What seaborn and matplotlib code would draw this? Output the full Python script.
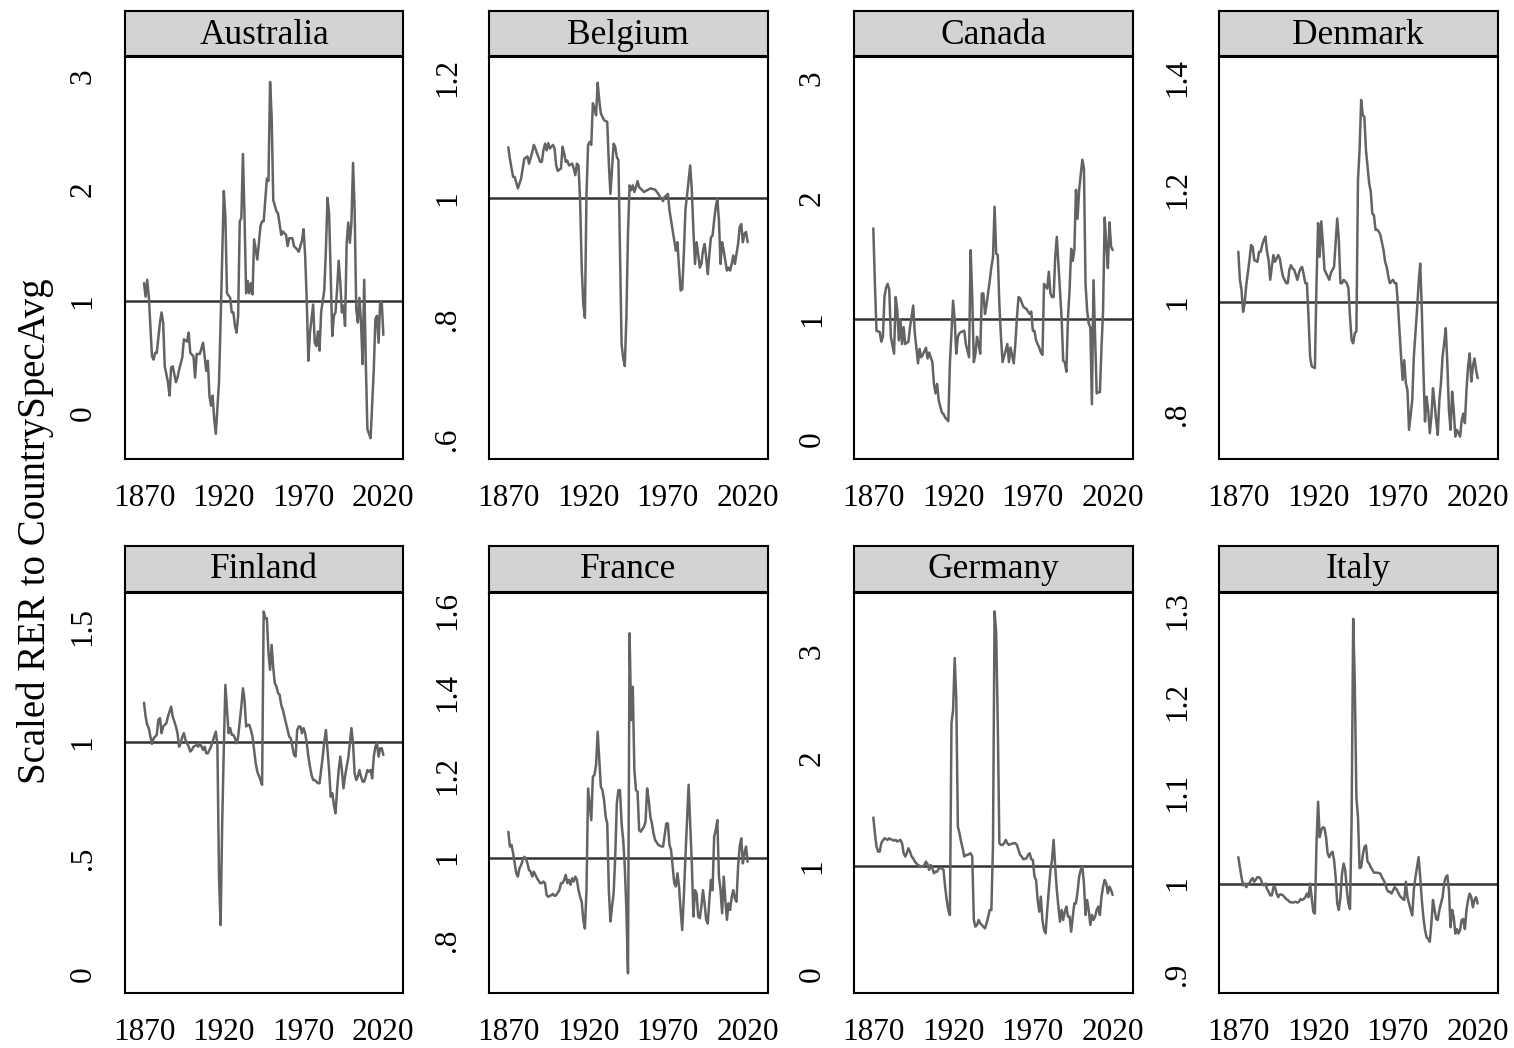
import matplotlib
matplotlib.use("Agg")
import matplotlib.pyplot as plt
import seaborn as sns
import pandas as pd

# Scaled real exchange rate relative to each country's own average, 1870-2020
countries = ["Australia", "Belgium", "Canada", "Denmark",
             "Finland", "France", "Germany", "Italy"]

australia = [
    (1870, 1.16), (1871, 1.04), (1872, 1.19), (1873, 1.04), (1875, 0.51), (1876, 0.48),
    (1877, 0.54), (1878, 0.54), (1880, 0.81), (1881, 0.90), (1882, 0.81), (1883, 0.42),
    (1885, 0.28), (1886, 0.16), (1887, 0.41), (1888, 0.42), (1890, 0.28), (1891, 0.32),
    (1892, 0.39), (1894, 0.50), (1895, 0.66), (1897, 0.64), (1898, 0.72), (1899, 0.54),
    (1901, 0.51), (1902, 0.32), (1903, 0.53), (1905, 0.53), (1907, 0.63), (1908, 0.51),
    (1909, 0.38), (1910, 0.47), (1911, 0.16), (1912, 0.07), (1913, 0.16), (1914, -0.05),
    (1915, -0.18), (1917, 0.28), (1918, 0.81), (1920, 1.98), (1921, 1.75), (1922, 1.07),
    (1924, 1.03), (1925, 0.90), (1926, 0.90), (1927, 0.78), (1928, 0.72), (1929, 0.87),
    (1930, 1.71), (1931, 1.74), (1932, 2.31), (1933, 1.75), (1934, 1.07), (1935, 1.18),
    (1936, 1.07), (1937, 1.16), (1938, 1.06), (1939, 1.55), (1941, 1.37), (1943, 1.67),
    (1944, 1.71), (1945, 1.71), (1947, 2.09), (1948, 2.07), (1949, 2.95), (1950, 2.64),
    (1951, 1.90), (1953, 1.80), (1954, 1.78), (1956, 1.59), (1957, 1.62), (1959, 1.59),
    (1960, 1.49), (1961, 1.56), (1963, 1.56), (1964, 1.49), (1966, 1.46), (1967, 1.44),
    (1969, 1.54), (1970, 1.64), (1971, 1.40), (1972, 1.00), (1973, 0.47), (1974, 0.72),
    (1976, 0.97), (1977, 0.63), (1978, 0.60), (1979, 0.73), (1980, 0.56), (1981, 0.90),
    (1983, 1.10), (1984, 1.46), (1985, 1.92), (1986, 1.78), (1988, 0.69), (1989, 0.87),
    (1990, 0.90), (1991, 1.10), (1992, 1.36), (1993, 1.17), (1994, 0.90), (1995, 0.96),
    (1996, 0.78), (1997, 1.52), (1998, 1.70), (1999, 1.52), (2000, 1.70), (2001, 2.23),
    (2002, 1.81), (2003, 0.93), (2004, 0.81), (2005, 1.03), (2006, 0.81), (2007, 0.44),
    (2008, 1.19), (2009, 0.45), (2010, -0.14), (2011, -0.18), (2012, -0.22), (2014, 0.39),
    (2015, 0.84), (2016, 0.87), (2017, 0.63), (2018, 0.99), (2019, 0.99), (2020, 0.70),
]

belgium = [
    (1870, 1.084), (1871, 1.065), (1873, 1.035), (1874, 1.035), (1876, 1.016), (1878, 1.032),
    (1879, 1.049), (1880, 1.065), (1882, 1.069), (1883, 1.057), (1885, 1.076), (1886, 1.088),
    (1887, 1.082), (1888, 1.074), (1890, 1.060), (1891, 1.060), (1892, 1.079), (1893, 1.090),
    (1894, 1.079), (1895, 1.091), (1896, 1.082), (1898, 1.088), (1899, 1.082), (1900, 1.054),
    (1901, 1.045), (1903, 1.049), (1904, 1.085), (1905, 1.074), (1906, 1.060), (1907, 1.062),
    (1908, 1.054), (1910, 1.057), (1911, 1.049), (1912, 1.038), (1913, 1.057), (1914, 1.054),
    (1915, 0.996), (1916, 0.885), (1917, 0.824), (1918, 0.802), (1919, 1.007), (1920, 1.088),
    (1921, 1.093), (1922, 1.088), (1923, 1.157), (1924, 1.148), (1925, 1.137), (1926, 1.191),
    (1927, 1.162), (1928, 1.140), (1930, 1.129), (1932, 1.126), (1933, 1.057), (1934, 1.007),
    (1936, 1.090), (1937, 1.085), (1938, 1.068), (1939, 1.063), (1940, 0.913), (1941, 0.758),
    (1942, 0.735), (1943, 0.722), (1944, 0.802), (1945, 0.941), (1946, 1.021), (1947, 1.013),
    (1948, 1.021), (1949, 1.010), (1950, 1.018), (1951, 1.028), (1952, 1.018), (1954, 1.013),
    (1955, 1.010), (1957, 1.013), (1959, 1.016), (1962, 1.014), (1964, 1.007), (1965, 1.002),
    (1966, 0.999), (1967, 0.995), (1968, 1.002), (1969, 1.004), (1970, 1.007), (1971, 0.980),
    (1972, 0.963), (1973, 0.945), (1974, 0.930), (1975, 0.913), (1976, 0.927), (1977, 0.885),
    (1978, 0.847), (1979, 0.849), (1980, 0.907), (1981, 0.980), (1983, 1.029), (1984, 1.054),
    (1985, 1.013), (1986, 0.946), (1987, 0.891), (1988, 0.927), (1989, 0.907), (1990, 0.885),
    (1991, 0.891), (1992, 0.913), (1993, 0.924), (1994, 0.902), (1995, 0.874), (1996, 0.907),
    (1997, 0.935), (1998, 0.938), (1999, 0.963), (2000, 0.985), (2001, 0.999), (2002, 0.963),
    (2003, 0.891), (2004, 0.927), (2005, 0.913), (2007, 0.880), (2008, 0.885), (2009, 0.880),
    (2010, 0.891), (2011, 0.905), (2012, 0.891), (2014, 0.924), (2015, 0.952), (2016, 0.957),
    (2017, 0.927), (2018, 0.941), (2019, 0.944), (2020, 0.927),
]

canada = [
    (1870, 1.75), (1871, 1.29), (1872, 0.90), (1874, 0.89), (1875, 0.81), (1876, 0.85),
    (1877, 1.18), (1878, 1.26), (1879, 1.29), (1880, 1.24), (1881, 0.85), (1883, 0.71),
    (1884, 1.18), (1885, 1.07), (1886, 0.82), (1887, 0.99), (1888, 0.79), (1889, 0.93),
    (1890, 0.79), (1891, 0.80), (1892, 0.81), (1893, 0.93), (1895, 1.11), (1896, 0.88),
    (1897, 0.76), (1898, 0.63), (1899, 0.75), (1900, 0.68), (1901, 0.70), (1903, 0.76),
    (1904, 0.67), (1905, 0.72), (1907, 0.64), (1908, 0.46), (1909, 0.38), (1910, 0.46),
    (1911, 0.32), (1913, 0.22), (1914, 0.21), (1915, 0.18), (1917, 0.15), (1918, 0.63),
    (1920, 1.15), (1921, 0.99), (1922, 0.71), (1923, 0.85), (1924, 0.88), (1925, 0.89),
    (1927, 0.90), (1928, 0.79), (1930, 0.68), (1931, 1.57), (1932, 1.18), (1933, 0.64),
    (1934, 0.71), (1935, 0.85), (1936, 0.79), (1937, 0.71), (1938, 1.21), (1939, 1.21),
    (1940, 1.04), (1941, 1.12), (1943, 1.32), (1944, 1.43), (1945, 1.51), (1946, 1.93),
    (1947, 1.54), (1948, 1.53), (1949, 1.12), (1950, 0.85), (1951, 0.64), (1953, 0.74),
    (1954, 0.79), (1955, 0.64), (1956, 0.76), (1958, 0.63), (1959, 0.79), (1960, 1.01),
    (1961, 1.18), (1962, 1.17), (1964, 1.10), (1966, 1.08), (1968, 1.04), (1969, 1.06),
    (1970, 0.90), (1971, 0.90), (1972, 0.82), (1973, 0.79), (1974, 0.76), (1975, 0.72),
    (1976, 0.70), (1977, 1.29), (1979, 1.25), (1980, 1.39), (1981, 1.21), (1982, 1.18),
    (1983, 1.18), (1984, 1.51), (1985, 1.68), (1986, 1.46), (1988, 1.01), (1989, 0.65),
    (1990, 0.64), (1991, 0.56), (1992, 1.01), (1993, 1.24), (1994, 1.58), (1995, 1.48),
    (1996, 1.57), (1997, 2.07), (1998, 1.83), (1999, 2.07), (2001, 2.32), (2002, 2.25),
    (2003, 1.29), (2004, 1.07), (2005, 0.96), (2006, 0.93), (2007, 0.29), (2008, 1.32),
    (2009, 0.85), (2010, 0.38), (2011, 0.39), (2012, 0.39), (2013, 0.76), (2014, 1.07),
    (2015, 1.84), (2016, 1.62), (2017, 1.42), (2018, 1.80), (2019, 1.60), (2020, 1.57),
]

denmark = [
    (1870, 1.090), (1871, 1.040), (1872, 1.022), (1873, 0.983), (1874, 0.998), (1875, 1.031),
    (1877, 1.075), (1878, 1.102), (1879, 1.099), (1880, 1.075), (1882, 1.072), (1883, 1.090),
    (1884, 1.090), (1885, 1.102), (1886, 1.111), (1887, 1.117), (1888, 1.090), (1889, 1.075),
    (1890, 1.040), (1891, 1.063), (1892, 1.084), (1893, 1.072), (1895, 1.084), (1896, 1.078),
    (1897, 1.060), (1898, 1.046), (1900, 1.034), (1901, 1.034), (1902, 1.058), (1903, 1.066),
    (1904, 1.060), (1905, 1.058), (1907, 1.040), (1908, 1.052), (1909, 1.060), (1910, 1.063),
    (1911, 1.049), (1912, 1.034), (1913, 1.034), (1914, 0.974), (1915, 0.903), (1916, 0.886),
    (1918, 0.883), (1919, 1.034), (1920, 1.141), (1921, 1.081), (1922, 1.144), (1923, 1.105),
    (1924, 1.058), (1926, 1.046), (1927, 1.040), (1928, 1.052), (1930, 1.063), (1931, 1.105),
    (1932, 1.149), (1933, 1.111), (1934, 1.034), (1935, 1.034), (1936, 1.040), (1938, 1.034),
    (1939, 1.025), (1940, 0.974), (1941, 0.933), (1942, 0.927), (1943, 0.945), (1944, 0.948),
    (1945, 1.218), (1946, 1.271), (1947, 1.360), (1948, 1.333), (1949, 1.330), (1950, 1.271),
    (1952, 1.212), (1953, 1.197), (1954, 1.158), (1955, 1.155), (1956, 1.129), (1957, 1.129),
    (1958, 1.126), (1959, 1.120), (1961, 1.093), (1962, 1.072), (1963, 1.063), (1964, 1.046),
    (1965, 1.034), (1967, 1.040), (1968, 1.034), (1969, 1.034), (1970, 0.998), (1971, 0.951),
    (1972, 0.903), (1973, 0.862), (1974, 0.897), (1975, 0.856), (1976, 0.844), (1977, 0.773),
    (1979, 0.826), (1980, 0.903), (1982, 0.986), (1983, 1.034), (1984, 1.069), (1985, 0.986),
    (1986, 0.880), (1987, 0.788), (1988, 0.832), (1989, 0.808), (1990, 0.767), (1991, 0.797),
    (1992, 0.847), (1993, 0.820), (1994, 0.790), (1995, 0.764), (1996, 0.826), (1997, 0.856),
    (1998, 0.903), (1999, 0.927), (2000, 0.954), (2001, 0.891), (2002, 0.808), (2003, 0.773),
    (2004, 0.841), (2005, 0.808), (2006, 0.761), (2007, 0.773), (2009, 0.761), (2010, 0.790),
    (2011, 0.802), (2012, 0.785), (2013, 0.844), (2014, 0.886), (2015, 0.909), (2016, 0.859),
    (2017, 0.886), (2018, 0.900), (2019, 0.880), (2020, 0.865),
]

finland = [
    (1870, 1.171), (1871, 1.111), (1872, 1.075), (1873, 1.061), (1874, 1.024), (1875, 0.993),
    (1876, 1.017), (1878, 1.032), (1879, 1.097), (1880, 1.104), (1881, 1.039), (1882, 1.068),
    (1883, 1.075), (1884, 1.082), (1885, 1.111), (1887, 1.154), (1888, 1.111), (1890, 1.068),
    (1891, 1.039), (1892, 0.981), (1893, 0.996), (1894, 1.024), (1895, 1.039), (1896, 1.010),
    (1898, 0.981), (1899, 0.960), (1900, 0.967), (1901, 0.981), (1903, 0.988), (1904, 0.981),
    (1905, 0.996), (1906, 0.981), (1907, 0.967), (1908, 0.981), (1909, 0.952), (1910, 0.952),
    (1911, 0.967), (1912, 0.981), (1914, 1.024), (1915, 1.046), (1916, 0.988), (1917, 0.420),
    (1918, 0.210), (1919, 0.650), (1920, 0.970), (1921, 1.248), (1922, 1.140), (1923, 1.039),
    (1924, 1.061), (1925, 1.032), (1926, 1.032), (1927, 1.017), (1928, 0.996), (1929, 1.024),
    (1931, 1.154), (1932, 1.233), (1933, 1.183), (1934, 1.068), (1935, 1.075), (1936, 1.075),
    (1937, 1.053), (1938, 1.024), (1939, 0.967), (1940, 0.909), (1941, 0.873), (1943, 0.837),
    (1944, 0.816), (1945, 1.565), (1946, 1.536), (1947, 1.536), (1948, 1.385), (1949, 1.313),
    (1950, 1.421), (1951, 1.320), (1952, 1.255), (1953, 1.241), (1954, 1.212), (1955, 1.205),
    (1956, 1.161), (1957, 1.140), (1958, 1.111), (1959, 1.082), (1960, 1.053), (1961, 1.024),
    (1962, 1.017), (1963, 0.981), (1964, 0.945), (1965, 0.938), (1966, 1.053), (1967, 1.068),
    (1968, 1.068), (1969, 1.039), (1970, 1.061), (1971, 1.039), (1972, 0.996), (1973, 0.938),
    (1974, 0.895), (1975, 0.859), (1976, 0.837), (1977, 0.837), (1979, 0.823), (1980, 0.823),
    (1981, 0.880), (1982, 0.938), (1983, 1.003), (1984, 1.053), (1985, 0.967), (1986, 0.880),
    (1987, 0.765), (1988, 0.780), (1989, 0.729), (1990, 0.693), (1991, 0.794), (1992, 0.880),
    (1993, 0.938), (1994, 0.880), (1995, 0.801), (1996, 0.852), (1997, 0.895), (1998, 0.931),
    (1999, 0.996), (2000, 1.061), (2001, 0.996), (2002, 0.866), (2003, 0.837), (2004, 0.852),
    (2005, 0.880), (2006, 0.852), (2007, 0.830), (2008, 0.830), (2009, 0.852), (2010, 0.880),
    (2011, 0.873), (2012, 0.880), (2013, 0.844), (2014, 0.938), (2015, 0.981), (2016, 0.996),
    (2017, 0.938), (2018, 0.974), (2019, 0.974), (2020, 0.945),
]

france = [
    (1870, 1.063), (1871, 1.027), (1872, 1.031), (1873, 1.011), (1874, 0.986), (1875, 0.962),
    (1876, 0.954), (1877, 0.974), (1878, 0.982), (1879, 0.994), (1880, 1.002), (1881, 0.998),
    (1882, 0.986), (1883, 0.970), (1884, 0.966), (1885, 0.954), (1886, 0.966), (1887, 0.958),
    (1888, 0.950), (1890, 0.938), (1891, 0.938), (1892, 0.942), (1893, 0.938), (1894, 0.909),
    (1895, 0.905), (1897, 0.909), (1898, 0.912), (1899, 0.907), (1900, 0.909), (1902, 0.921),
    (1903, 0.938), (1904, 0.938), (1905, 0.946), (1906, 0.958), (1907, 0.938), (1908, 0.946),
    (1909, 0.934), (1910, 0.950), (1911, 0.942), (1912, 0.954), (1913, 0.946), (1914, 0.921),
    (1915, 0.905), (1916, 0.893), (1917, 0.849), (1918, 0.828), (1919, 0.921), (1920, 1.168),
    (1921, 1.130), (1922, 1.091), (1923, 1.197), (1924, 1.201), (1925, 1.225), (1926, 1.306),
    (1927, 1.237), (1928, 1.172), (1929, 1.164), (1930, 1.140), (1931, 1.100), (1932, 1.083),
    (1933, 0.921), (1934, 0.845), (1935, 0.881), (1936, 0.913), (1937, 1.002), (1938, 1.132),
    (1939, 1.164), (1940, 1.164), (1941, 1.083), (1942, 1.043), (1943, 0.978), (1944, 0.873),
    (1945, 0.719), (1946, 1.545), (1947, 1.334), (1948, 1.415), (1949, 1.213), (1950, 1.164),
    (1951, 1.160), (1952, 1.067), (1953, 1.063), (1955, 1.075), (1956, 1.087), (1957, 1.168),
    (1958, 1.140), (1959, 1.100), (1960, 1.083), (1961, 1.059), (1962, 1.043), (1964, 1.031),
    (1966, 1.027), (1967, 1.027), (1969, 1.083), (1970, 1.083), (1971, 1.031), (1972, 1.019),
    (1973, 0.978), (1974, 0.938), (1975, 0.930), (1976, 0.962), (1977, 0.930), (1978, 0.873),
    (1979, 0.824), (1980, 0.905), (1981, 1.002), (1982, 1.091), (1983, 1.177), (1984, 1.083),
    (1985, 0.986), (1986, 0.857), (1987, 0.921), (1988, 0.913), (1989, 0.857), (1990, 0.853),
    (1991, 0.881), (1992, 0.921), (1993, 0.889), (1994, 0.849), (1995, 0.840), (1996, 0.897),
    (1997, 0.946), (1998, 0.921), (1999, 1.051), (2000, 1.067), (2001, 1.091), (2002, 0.954),
    (2003, 0.921), (2004, 0.865), (2005, 0.954), (2006, 0.897), (2007, 0.849), (2008, 0.889),
    (2009, 0.873), (2010, 0.905), (2011, 0.921), (2012, 0.901), (2013, 0.893), (2014, 0.978),
    (2015, 1.027), (2016, 1.047), (2017, 0.986), (2018, 1.011), (2019, 1.027), (2020, 0.990),
]

germany = [
    (1870, 1.452), (1871, 1.307), (1872, 1.183), (1873, 1.136), (1874, 1.136), (1875, 1.214),
    (1876, 1.238), (1877, 1.260), (1879, 1.245), (1880, 1.260), (1881, 1.250), (1882, 1.245),
    (1883, 1.238), (1884, 1.245), (1885, 1.229), (1887, 1.245), (1888, 1.214), (1889, 1.121),
    (1890, 1.090), (1891, 1.121), (1892, 1.167), (1893, 1.136), (1894, 1.090), (1895, 1.074),
    (1896, 1.043), (1897, 1.028), (1898, 1.012), (1900, 0.997), (1901, 0.997), (1902, 1.012),
    (1903, 1.043), (1904, 1.020), (1905, 0.966), (1906, 1.012), (1907, 0.981), (1908, 0.935),
    (1909, 0.950), (1910, 0.950), (1911, 0.981), (1913, 0.981), (1914, 0.966), (1915, 0.811),
    (1916, 0.687), (1917, 0.594), (1918, 0.548), (1919, 2.328), (1920, 2.450), (1921, 2.932),
    (1922, 2.545), (1923, 1.368), (1924, 1.307), (1925, 1.229), (1926, 1.167), (1927, 1.090),
    (1928, 1.105), (1929, 1.105), (1931, 1.121), (1932, 1.090), (1933, 0.502), (1934, 0.440),
    (1935, 0.455), (1936, 0.502), (1937, 0.471), (1938, 0.455), (1939, 0.440), (1940, 0.424),
    (1941, 0.471), (1942, 0.533), (1943, 0.594), (1944, 0.594), (1945, 1.200), (1946, 3.365),
    (1947, 3.164), (1948, 2.328), (1949, 1.214), (1950, 1.198), (1951, 1.198), (1952, 1.214),
    (1953, 1.245), (1954, 1.214), (1955, 1.198), (1956, 1.205), (1958, 1.214), (1959, 1.214),
    (1960, 1.198), (1961, 1.152), (1962, 1.105), (1963, 1.090), (1964, 1.065), (1966, 1.074),
    (1967, 1.105), (1968, 1.121), (1969, 1.065), (1970, 1.059), (1971, 0.904), (1972, 0.873),
    (1973, 0.687), (1974, 0.579), (1975, 0.718), (1976, 0.500), (1977, 0.409), (1978, 0.378),
    (1979, 0.594), (1980, 0.780), (1981, 0.966), (1982, 1.059), (1983, 1.245), (1984, 0.997),
    (1985, 0.780), (1986, 0.625), (1987, 0.486), (1988, 0.594), (1989, 0.502), (1990, 0.579),
    (1991, 0.625), (1992, 0.533), (1993, 0.533), (1994, 0.393), (1995, 0.533), (1996, 0.656),
    (1997, 0.656), (1998, 0.765), (1999, 0.904), (2000, 0.966), (2001, 0.997), (2002, 0.842),
    (2003, 0.548), (2004, 0.687), (2005, 0.594), (2006, 0.455), (2007, 0.548), (2008, 0.502),
    (2009, 0.533), (2010, 0.594), (2011, 0.625), (2012, 0.548), (2013, 0.718), (2014, 0.811),
    (2015, 0.873), (2016, 0.842), (2017, 0.749), (2018, 0.811), (2019, 0.780), (2020, 0.734),
]

italy = [
    (1870, 1.029), (1871, 1.018), (1872, 1.007), (1873, 0.998), (1874, 1.000), (1875, 0.996),
    (1876, 1.000), (1877, 1.000), (1878, 1.004), (1879, 1.006), (1880, 1.002), (1882, 1.007),
    (1883, 1.007), (1884, 1.005), (1885, 1.000), (1886, 0.998), (1887, 1.000), (1888, 0.994),
    (1889, 0.991), (1890, 0.987), (1891, 0.987), (1892, 0.996), (1893, 0.996), (1894, 0.989),
    (1895, 0.985), (1896, 0.988), (1897, 0.988), (1898, 0.987), (1899, 0.985), (1900, 0.983),
    (1901, 0.982), (1902, 0.980), (1904, 0.979), (1906, 0.980), (1907, 0.979), (1908, 0.980),
    (1909, 0.983), (1910, 0.982), (1911, 0.983), (1912, 0.985), (1913, 0.989), (1914, 0.985),
    (1915, 1.000), (1916, 0.985), (1917, 0.969), (1918, 0.967), (1919, 1.044), (1920, 1.090),
    (1921, 1.051), (1922, 1.059), (1923, 1.062), (1924, 1.061), (1925, 1.051), (1926, 1.033),
    (1927, 1.029), (1928, 1.033), (1929, 1.035), (1930, 1.026), (1931, 1.007), (1932, 0.978),
    (1933, 0.971), (1934, 0.985), (1935, 1.011), (1936, 1.022), (1937, 1.015), (1938, 0.993),
    (1939, 0.978), (1940, 0.972), (1941, 1.070), (1942, 1.291), (1943, 1.220), (1944, 1.095),
    (1945, 1.073), (1946, 1.017), (1947, 1.018), (1948, 1.031), (1949, 1.040), (1950, 1.042),
    (1951, 1.024), (1952, 1.022), (1953, 1.018), (1954, 1.015), (1955, 1.012), (1957, 1.012),
    (1959, 1.011), (1960, 1.007), (1961, 1.004), (1962, 1.000), (1963, 0.994), (1964, 0.991),
    (1965, 0.991), (1966, 0.989), (1968, 0.996), (1969, 0.994), (1970, 0.991), (1971, 0.987),
    (1972, 0.985), (1973, 0.983), (1974, 0.982), (1975, 1.002), (1976, 0.985), (1977, 0.978),
    (1978, 0.971), (1979, 0.965), (1980, 0.993), (1981, 1.007), (1982, 1.018), (1983, 1.029),
    (1984, 1.007), (1985, 0.982), (1986, 0.963), (1987, 0.949), (1988, 0.941), (1989, 0.939),
    (1990, 0.936), (1991, 0.956), (1992, 0.982), (1993, 0.971), (1994, 0.961), (1995, 0.960),
    (1996, 0.971), (1997, 0.978), (1998, 0.985), (1999, 1.000), (2000, 1.007), (2001, 1.009),
    (2002, 0.993), (2003, 0.952), (2004, 0.971), (2005, 0.963), (2006, 0.945), (2007, 0.950),
    (2008, 0.945), (2009, 0.949), (2010, 0.960), (2011, 0.961), (2012, 0.950), (2013, 0.971),
    (2014, 0.982), (2015, 0.989), (2016, 0.985), (2017, 0.974), (2018, 0.982), (2019, 0.985),
    (2020, 0.978),
]

series = [australia, belgium, canada, denmark, finland, france, germany, italy]

# y-axis ticks and visible range for each panel
yticks = [
    [0, 1, 2, 3],
    [0.6, 0.8, 1.0, 1.2],
    [0, 1, 2, 3],
    [0.8, 1.0, 1.2, 1.4],
    [0, 0.5, 1.0, 1.5],
    [0.8, 1.0, 1.2, 1.4, 1.6],
    [0, 1, 2, 3],
    [0.9, 1.0, 1.1, 1.2, 1.3],
]
ylims = [
    (-0.40, 3.17), (0.569, 1.233), (-0.16, 3.17), (0.722, 1.436),
    (-0.082, 1.647), (0.672, 1.644), (-0.173, 3.54), (0.88, 1.32),
]
xticks = [1870, 1920, 1970, 2020]

sns.set_style("white")
plt.rcParams["font.family"] = ["Liberation Serif", "DejaVu Serif"]
plt.rcParams["axes.linewidth"] = 1.5

W, H = 1514, 1048
fig = plt.figure(figsize=(W / 100, H / 100), dpi=100)


def px_rect(x0, y0, x1, y1):
    return [x0 / W, 1 - y1 / H, (x1 - x0) / W, (y1 - y0) / H]


def stata_label(v):
    s = f"{v:g}"
    if s.startswith("0.") and len(s) > 2:
        s = s[1:]
    return s


col_left = [124.7, 489.0, 854.0, 1219.0]
box_w = 278.6
row_box = [(57.3, 458.5), (592.5, 992.7)]
row_strip = [(11.3, 56.2), (545.7, 591.5)]

line_color = "#636363"
ref_color = "#333333"

for i, (name, data) in enumerate(zip(countries, series)):
    r, c = divmod(i, 4)
    x0 = col_left[c]
    x1 = x0 + box_w
    top, bottom = row_box[r]
    ax = fig.add_axes(px_rect(x0, top, x1, bottom))
    df = pd.DataFrame(data, columns=["year", "rer"])
    ax.axhline(1.0, color=ref_color, lw=1.8, zorder=1)
    sns.lineplot(data=df, x="year", y="rer", ax=ax, color=line_color,
                 linewidth=1.8, errorbar=None, zorder=2)
    ax.set_xlim(1857.9, 2032.5)
    ax.set_ylim(*ylims[i])
    ax.set_xticks(xticks)
    ax.set_xticklabels([str(t) for t in xticks])
    ax.set_yticks(yticks[i])
    ax.set_yticklabels([stata_label(t) for t in yticks[i]])
    ax.set_xlabel("")
    ax.set_ylabel("")
    ax.tick_params(axis="both", direction="out", length=8.5, width=1.1,
                   color="black", labelsize=22.5, labelcolor="black")
    ax.tick_params(axis="x", pad=10)
    ax.tick_params(axis="y", pad=11)
    for lab in ax.get_yticklabels():
        lab.set_rotation(90)
        lab.set_va("center")
        lab.set_ha("right")
    for sp in ax.spines.values():
        sp.set_visible(True)
        sp.set_color("black")
        sp.set_linewidth(1.5)

    s_top, s_bottom = row_strip[r]
    sax = fig.add_axes(px_rect(x0, s_top, x1, s_bottom))
    sax.set_facecolor("#d3d3d3")
    sax.set_xticks([])
    sax.set_yticks([])
    for sp in sax.spines.values():
        sp.set_visible(True)
        sp.set_color("black")
        sp.set_linewidth(1.5)
    sax.text(0.5, 0.47, name, ha="center", va="center", fontsize=25.5,
             transform=sax.transAxes, color="black")

fig.text(35 / W, 1 - 531 / H, "Scaled RER to CountrySpecAvg", rotation=90,
         ha="center", va="center", fontsize=28, color="black")

fig.savefig("out.png", dpi=100, facecolor="white")
